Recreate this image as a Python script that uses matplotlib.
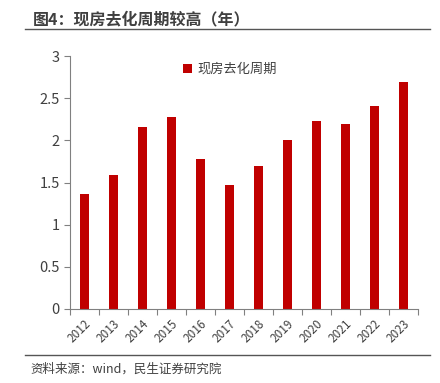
import matplotlib.pyplot as plt
from matplotlib.lines import Line2D

plt.rcParams['font.family'] = ['Noto Sans CJK SC', 'DejaVu Sans']

years = ['2012', '2013', '2014', '2015', '2016', '2017', '2018', '2019', '2020', '2021', '2022', '2023']
cycle = [1.36, 1.59, 2.16, 2.28, 1.78, 1.47, 1.70, 2.00, 2.23, 2.19, 2.41, 2.69]

fig = plt.figure(figsize=(4.4, 3.83), dpi=100)
ax = fig.add_axes([70 / 440, 1 - 309 / 383, 348 / 440, 253 / 383])

x = range(len(years))
ax.bar(x, cycle, width=0.3, color='#C00000', label='现房去化周期')
ax.set_xlim(-0.5, len(years) - 0.5)
ax.set_ylim(0, 3)
ax.set_yticks([0, 0.5, 1, 1.5, 2, 2.5, 3])
ax.set_yticklabels(['0', '0.5', '1', '1.5', '2', '2.5', '3'])
ax.set_xticks([i - 0.5 for i in range(len(years) + 1)])
ax.set_xticklabels([''] * (len(years) + 1))
ax.set_xticks(list(x), minor=True)
ax.set_xticklabels(years, minor=True, rotation=45, ha='right', rotation_mode='anchor',
                   fontsize=8.5, color='#404040')
ax.tick_params(axis='x', which='minor', length=0, pad=6)
ax.tick_params(axis='x', which='major', length=4, direction='out', color='#808080')
ax.tick_params(axis='y', length=4, direction='out', color='#808080', labelsize=10.5, labelcolor='#404040')
for s in ['top', 'right']:
    ax.spines[s].set_visible(False)
for s in ['left', 'bottom']:
    ax.spines[s].set_color('#808080')

ax.legend(loc='upper center', frameon=False, fontsize=9.5, handlelength=0.7, handleheight=0.7,
          handletextpad=0.4, labelcolor='#404040', bbox_to_anchor=(0.46, 1.02))

fig.text(33 / 440, 1 - 19 / 383, '图4：现房去化周期较高（年）', fontsize=11.5, fontweight='bold',
         color='#404040', va='center')
fig.add_artist(Line2D([25 / 440, 430 / 440], [1 - 29 / 383, 1 - 29 / 383], color='#555555', lw=1))
fig.add_artist(Line2D([25 / 440, 430 / 440], [1 - 355 / 383, 1 - 355 / 383], color='#555555', lw=1))
fig.text(30 / 440, 1 - 369 / 383, '资料来源：wind，民生证券研究院', fontsize=9, color='#404040', va='center')

fig.savefig('out.png', dpi=100)
